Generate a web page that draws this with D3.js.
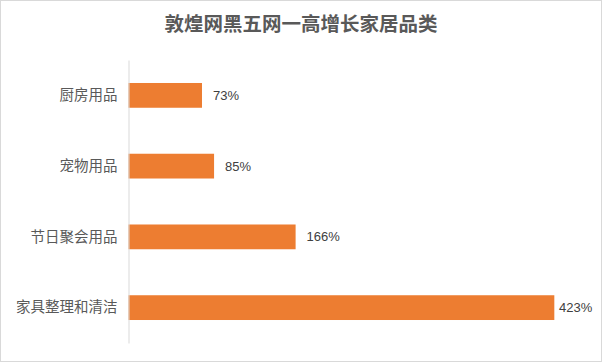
<!DOCTYPE html>
<html>
<head>
<meta charset="utf-8">
<script src="https://cdn.jsdelivr.net/npm/d3@7"></script>
<style>
  body { margin: 0; background: #fff; }
  svg { display: block; }
</style>
</head>
<body>
<svg id="chart" width="602" height="362"></svg>
<script>
var title = "敦煌网黑五网一高增长家居品类";
var categories = ["厨房用品", "宠物用品", "节日聚会用品", "家具整理和清洁"];
var values = [73, 85, 166, 423];
var labels = ["73%", "85%", "166%", "423%"];

var width = 602, height = 362;
var margin = {top: 60, right: 20, bottom: 19, left: 128.5};

var svg = d3.select('#chart');

// outer frame
svg.append("rect")
    .attr("x", 0.5).attr("y", 0.5)
    .attr("width", width - 1).attr("height", height - 1)
    .style("fill", "#fff")
    .style("stroke", "#d9d9d9");

var xScale = d3.scaleLinear()
    .domain([0, 450])
    .range([margin.left, margin.left + 453]);

var yScale = d3.scaleBand()
    .domain(categories)
    .range([margin.top, height - margin.bottom])
    .paddingInner(0.65)
    .paddingOuter(0.325);

svg.append("text")
    .attr("x", 301)
    .attr("y", 31)
    .attr("text-anchor", "middle")
    .style("font-family", "'Noto Sans CJK SC', sans-serif")
    .style("font-weight", "bold")
    .style("font-size", "19.5px")
    .style("fill", "#595959")
    .text(title);

var data = categories.map(function(c, i) {
    return {cat: c, val: values[i], label: labels[i]};
});

svg.selectAll("rect.bar")
    .data(data)
    .enter()
    .append("rect")
    .attr("class", "bar")
    .attr("x", xScale(0))
    .attr("y", function(d) { return yScale(d.cat); })
    .attr("width", function(d) { return xScale(d.val) - xScale(0); })
    .attr("height", yScale.bandwidth())
    .style("fill", "#ed7d31");

// vertical axis line, no ticks
var yAxis = d3.axisLeft(yScale).tickSize(0).tickPadding(11);
var gy = svg.append("g")
    .attr("transform", "translate(" + margin.left + ",0)")
    .call(yAxis);
gy.select(".domain").style("stroke", "#d9d9d9");
gy.selectAll("text")
    .style("font-family", "'Noto Sans CJK SC', sans-serif")
    .style("font-size", "14.5px")
    .style("fill", "#595959");

svg.selectAll("text.val")
    .data(data)
    .enter()
    .append("text")
    .attr("class", "val")
    .attr("x", function(d) { return Math.min(xScale(d.val) + 11, 559); })
    .attr("y", function(d) { return yScale(d.cat) + yScale.bandwidth() / 2; })
    .attr("dy", "0.35em")
    .style("font-family", "'Liberation Sans', sans-serif")
    .style("font-size", "13px")
    .style("fill", "#404040")
    .text(function(d) { return d.label; });
</script>
</body>
</html>
